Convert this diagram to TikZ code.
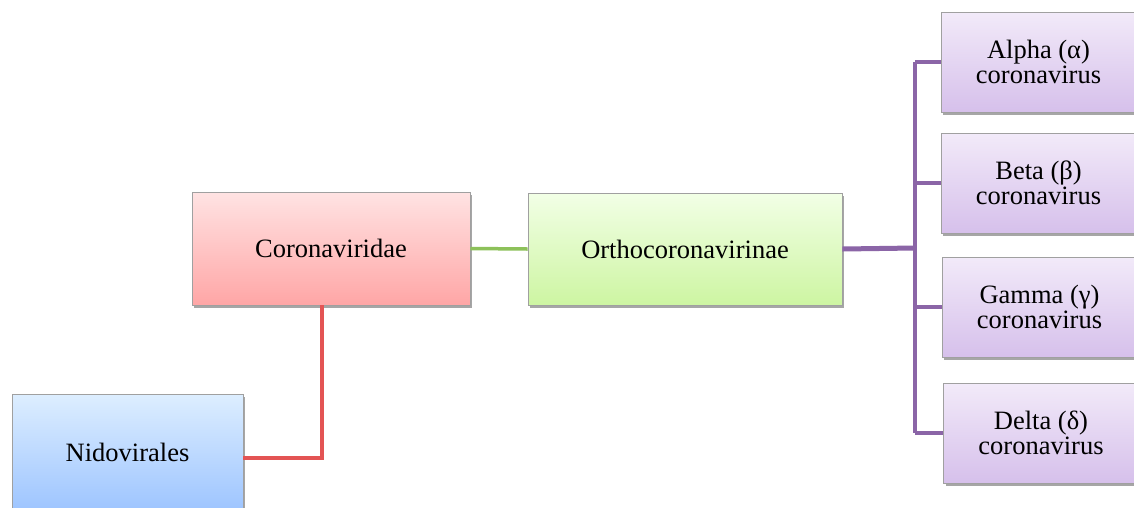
\documentclass[tikz,border=0pt]{standalone}
\usepackage{fontspec}
\setmainfont{Liberation Serif}
\usetikzlibrary{shadows}
\definecolor{redtop}{HTML}{FFE3E3}
\definecolor{redbot}{HTML}{FFA6A6}
\definecolor{grntop}{HTML}{F2FFE6}
\definecolor{grnbot}{HTML}{CDF5A2}
\definecolor{blutop}{HTML}{DDEEFF}
\definecolor{blubot}{HTML}{9EC5FF}
\definecolor{purtop}{HTML}{F2EAF9}
\definecolor{purbot}{HTML}{D6C0EB}
\definecolor{redln}{HTML}{E35454}
\definecolor{grnln}{HTML}{8DC15A}
\definecolor{purln}{HTML}{8B65A7}
\definecolor{edge}{HTML}{A0A0A0}
\tikzset{
  box/.style={draw=edge, line width=0.8pt, inner sep=2pt, align=center,
    font=\fontsize{26.5}{25}\selectfont,
    drop shadow={shadow xshift=2pt, shadow yshift=-2.5pt, fill=black, opacity=0.35}},
  redbox/.style={box, top color=redtop, bottom color=redbot},
  grnbox/.style={box, top color=grntop, bottom color=grnbot},
  blubox/.style={box, top color=blutop, bottom color=blubot},
  purbox/.style={box, top color=purtop, bottom color=purbot,
    minimum width=195pt, minimum height=100pt},
  redlink/.style={draw=redln, line width=4pt},
  grnlink/.style={draw=grnln, line width=3.5pt},
  purlink/.style={draw=purln, line width=4pt},
}
\begin{document}
\begin{tikzpicture}[x=1pt, y=-1pt]
\useasboundingbox (0,0) rectangle (1134,507);
\clip (0,0) rectangle (1134,507);
\fill[white] (0,0) rectangle (1134,507);
\node[redbox, minimum width=278pt, minimum height=113pt] (corona) at (331,248.5) {Coronaviridae};
\node[grnbox, minimum width=314pt, minimum height=112pt] (ortho) at (685,249) {Orthocoronavirinae};
\node[blubox, minimum width=231pt, minimum height=116pt] (nido) at (127.5,452) {Nidovirales};
\node[purbox] (alpha) at (1038.5,62) {Alpha (α)\\coronavirus};
\node[purbox] (beta) at (1038.5,183) {Beta (β)\\coronavirus};
\node[purbox] (gamma) at (1039.5,307) {Gamma (γ)\\coronavirus};
\node[purbox] (delta) at (1041,433) {Delta (δ)\\coronavirus};
\coordinate (bar) at (915,248);
\coordinate (redcorner) at (322,458);
% connectors
\path[redlink] ([yshift=-6pt]nido.east) -- (redcorner) -- (redcorner |- corona.south);
\path[grnlink] (corona.east) -- (ortho.west);
\path[purlink, line width=5pt] (ortho.east) -- (bar);
\path[purlink] (bar |- alpha.west) -- (bar |- delta.west);
\path[purlink] (bar |- alpha.west) -- (alpha.west);
\path[purlink] (bar |- beta.west) -- (beta.west);
\path[purlink] (bar |- gamma.west) -- (gamma.west);
\path[purlink] (bar |- delta.west) -- (delta.west);
\end{tikzpicture}
\end{document}
